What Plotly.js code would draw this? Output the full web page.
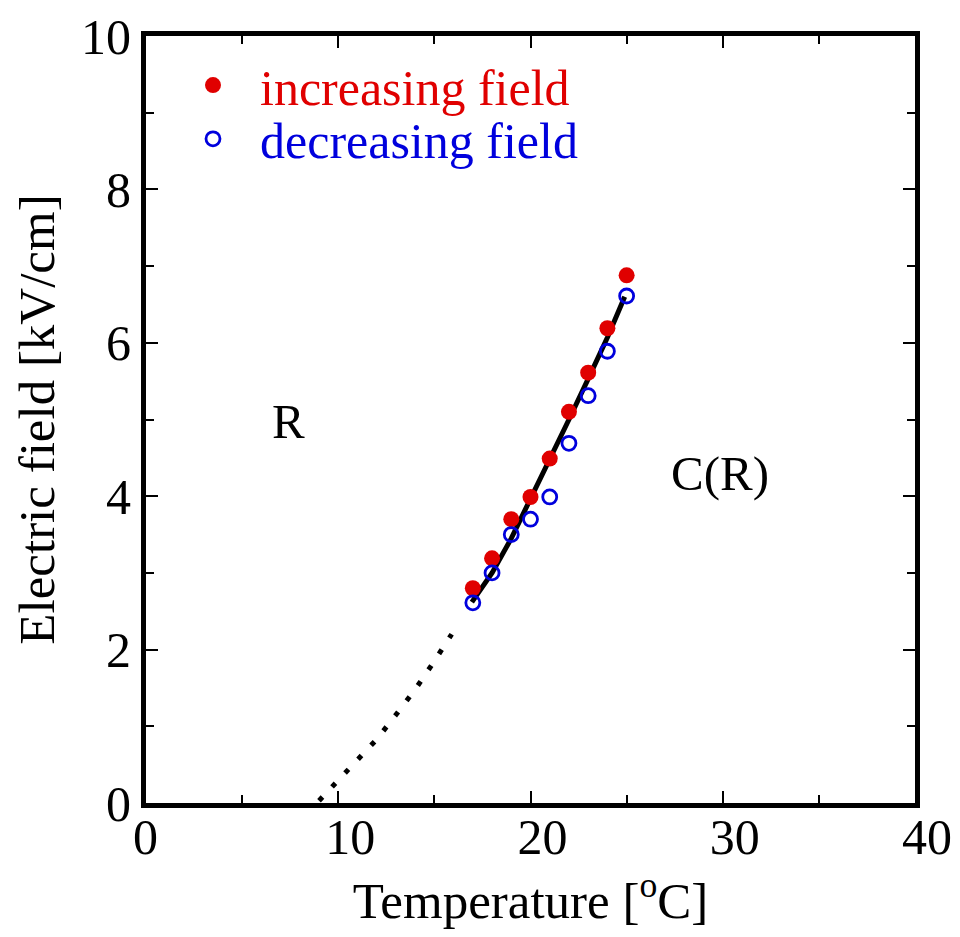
<!DOCTYPE html>
<html><head><meta charset="utf-8">
<script src="https://cdn.plot.ly/plotly-3.0.1.min.js"></script>
<style>html,body{margin:0;padding:0;background:#fff}</style>
</head><body>
<div id="chart" style="width:960px;height:937px"></div>
<script>
const incTemp = [17, 18, 19, 20, 21, 22, 23, 24, 25];
const incField = [2.8, 3.19, 3.7, 3.99, 4.49, 5.1, 5.61, 6.19, 6.88];
const decTemp = [17, 18, 19, 20, 21, 22, 23, 24, 25];
const decField = [2.61, 3.0, 3.5, 3.7, 3.99, 4.69, 5.31, 5.89, 6.61];
const fitTemp = [16.95, 18, 19, 20, 21, 22, 23, 24, 24.9];
const fitField = [2.62, 3.0, 3.45, 3.96, 4.48, 5.0, 5.53, 6.07, 6.6];
const extTemp = [9.0, 10, 11, 12, 13, 14, 15, 15.9];
const extField = [0.03, 0.29, 0.55, 0.83, 1.15, 1.48, 1.85, 2.2];
const xTickVals = [0, 10, 20, 30, 40];
const xTickText = ['0\u2007', '10', '20', '30', '40'];
const xMinorVals = [5, 15, 25, 35];
const yTickVals = [0, 2, 4, 6, 8, 10];
const yTickText = ['0', '2', '4', '6', '8', '10'];
const yMinorVals = [1, 3, 5, 7, 9];
const seriesNames = ['increasing field', 'decreasing field'];
const regionLabels = ['R', 'C(R)'];
const regionX = [7.4, 29.85];
const regionY = [4.97, 4.29];

const FONT = 'Liberation Serif, Times New Roman, serif';
const RED = '#e00000';
const BLUE = '#0000dd';

const traces = [
  {x: fitTemp, y: fitField, mode: 'lines', line: {color: '#000', width: 5}, showlegend: false, hoverinfo: 'skip'},
  {x: extTemp, y: extField, mode: 'lines', line: {color: '#000', width: 5, dash: '5px,14px'}, showlegend: false, hoverinfo: 'skip'},
  {x: incTemp, y: incField, mode: 'markers', name: seriesNames[0], legend: 'legend',
   marker: {symbol: 'circle', size: 16, color: RED, line: {width: 0}}},
  {x: decTemp, y: decField, mode: 'markers', name: seriesNames[1], legend: 'legend2',
   marker: {symbol: 'circle-open', size: 14, color: BLUE, line: {width: 2.8, color: BLUE}}}
];

const axisCommon = {
  ticks: 'inside', ticklen: 12, tickwidth: 2, tickcolor: '#000',
  showline: true, linewidth: 5, linecolor: '#000', mirror: 'allticks',
  showgrid: false, zeroline: false,
  tickfont: {family: FONT, size: 50, color: '#000'}
};

const layout = {
  width: 960, height: 937,
  margin: {l: 146, r: 45, t: 36, b: 134},
  paper_bgcolor: '#fff', plot_bgcolor: '#fff',
  showlegend: true,
  xaxis: Object.assign({}, axisCommon, {
    range: [0, 40], tickmode: 'array', tickvals: xTickVals, ticktext: xTickText,
    ticklabelshift: 12, ticklabelstandoff: -14,
    minor: {tickmode: 'array', tickvals: xMinorVals, ticks: 'inside', ticklen: 8, tickwidth: 2, tickcolor: '#000', showgrid: false},
    title: {text: 'Temperature [<sup>o</sup>C]', font: {family: FONT, size: 51, color: '#000'}, standoff: 10}
  }),
  yaxis: Object.assign({}, axisCommon, {
    range: [0, 10], tickmode: 'array', tickvals: yTickVals, ticktext: yTickText,
    minor: {tickmode: 'array', tickvals: yMinorVals, ticks: 'inside', ticklen: 8, tickwidth: 2, tickcolor: '#000', showgrid: false},
    title: {text: 'Electric field [kV/cm]\u2002\u2009', font: {family: FONT, size: 51, color: '#000'}, standoff: 12}
  }),
  legend: {x: 0.026, y: 0.936, xanchor: 'left', yanchor: 'middle', itemwidth: 84,
    bgcolor: 'rgba(0,0,0,0)', font: {family: FONT, size: 50, color: RED}},
  legend2: {x: 0.026, y: 0.866, xanchor: 'left', yanchor: 'middle', itemwidth: 84,
    bgcolor: 'rgba(0,0,0,0)', font: {family: FONT, size: 50, color: BLUE}},
  annotations: regionLabels.map((t, i) => ({
    x: regionX[i], y: regionY[i], xref: 'x', yref: 'y', text: t, showarrow: false,
    font: {family: FONT, size: 49, color: '#000'}, xanchor: 'center', yanchor: 'middle'
  }))
};

Plotly.newPlot('chart', traces, layout, {staticPlot: true});
</script>
</body></html>
